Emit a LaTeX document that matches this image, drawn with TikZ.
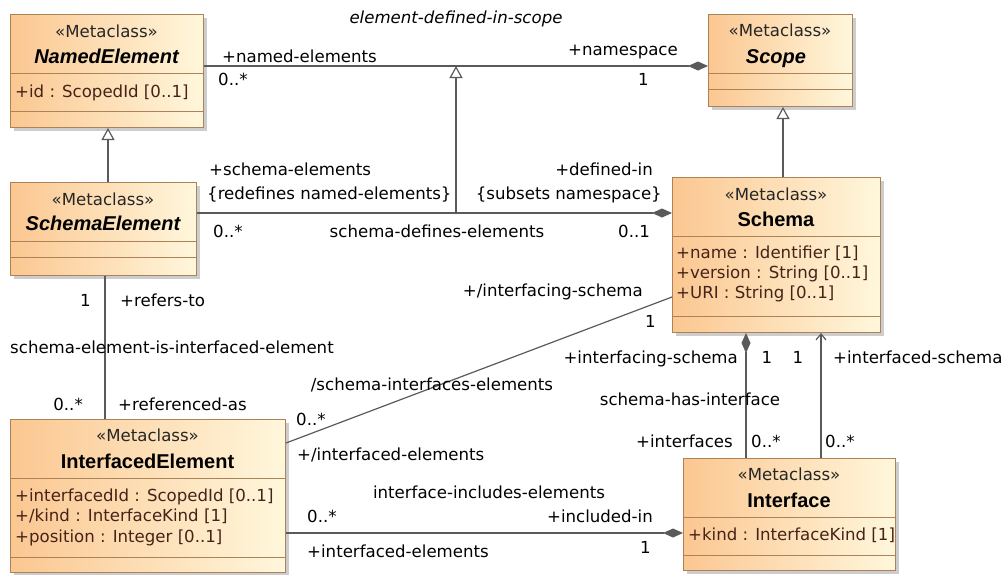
\documentclass[tikz,border=0pt]{standalone}
\usepackage{fontspec}
\setmainfont{DejaVu Sans}
\newfontfamily\titlefont{Liberation Sans}
\usetikzlibrary{arrows.meta,shadows}
\definecolor{boxL}{RGB}{251,199,145}
\definecolor{boxR}{RGB}{255,247,220}
\definecolor{boxB}{RGB}{172,130,90}
\definecolor{lineC}{RGB}{90,90,90}
\definecolor{attrC}{RGB}{70,35,25}
\definecolor{shadowC}{RGB}{205,205,205}
\begin{document}
\begin{tikzpicture}[x=1pt,y=-1pt,
 every node/.style={inner sep=0pt, font=\fontsize{16.6}{19}\selectfont},
 box/.style={draw=boxB, line width=1pt, left color=boxL, right color=boxR,
   drop shadow={shadow xshift=3pt, shadow yshift=-3pt, fill=shadowC, opacity=1},
   anchor=north west, inner sep=0pt},
 sep/.style={draw=boxB, line width=1pt},
 stereo/.style={anchor=base, text=black!85},
 ttl/.style={anchor=base, font=\titlefont\bfseries\fontsize{20}{24}\selectfont},
 ttli/.style={anchor=base, font=\titlefont\bfseries\itshape\fontsize{20}{24}\selectfont},
 attr/.style={anchor=base west, text=attrC},
 ital/.style={font=\fontsize{16.6}{19}\selectfont\itshape},
 conn/.style={draw=lineC, line width=1.2pt},
 comp/.style={conn, -{Diamond[length=20pt,width=9pt,fill=lineC]}},
 gen/.style={conn, -{Triangle[open, length=12pt, width=13pt, fill=white]}},
 nav/.style={conn, -{Straight Barb[length=6pt, width=10pt]}}
]
\useasboundingbox (0,0) rectangle (1004,574);

% helper coordinates
\coordinate (h66) at (0,66);
\coordinate (h213) at (0,213);
\coordinate (h443) at (0,443);
\coordinate (h297) at (0,297);
\coordinate (h533) at (0,533);
\coordinate (v108) at (108,0);
\coordinate (v783) at (783,0);
\coordinate (v105) at (105,0);
\coordinate (v746) at (746,0);
\coordinate (v821) at (821,0);

% ---------- boxes ----------
\node[box, minimum width=193pt, minimum height=113pt] (named) at (10,14) {};
\draw[sep] (named.west |- 0,73) -- (named.east |- 0,73);
\draw[sep] (named.west |- 0,111) -- (named.east |- 0,111);
\node[stereo] (named-st) at (106.5,37) {«Metaclass»};
\node[ttli] (named-t) at (106.5,63) {NamedElement};
\node[attr] (named-a1) at (15,97) {+id : ScopedId [0..1]};

\node[box, minimum width=144pt, minimum height=92pt] (scope) at (708,14) {};
\draw[sep] (scope.west |- 0,73) -- (scope.east |- 0,73);
\draw[sep] (scope.west |- 0,89) -- (scope.east |- 0,89);
\node[stereo] (scope-st) at (780,36) {«Metaclass»};
\node[ttli] (scope-t) at (776,63) {Scope};

\node[box, minimum width=186pt, minimum height=93pt] (schemael) at (10,182) {};
\draw[sep] (schemael.west |- 0,241) -- (schemael.east |- 0,241);
\draw[sep] (schemael.west |- 0,257) -- (schemael.east |- 0,257);
\node[stereo] (schemael-st) at (103,205) {«Metaclass»};
\node[ttli] (schemael-t) at (103,230) {SchemaElement};

\node[box, minimum width=208pt, minimum height=155pt] (schema) at (672,177) {};
\draw[sep] (schema.west |- 0,236) -- (schema.east |- 0,236);
\draw[sep] (schema.west |- 0,316) -- (schema.east |- 0,316);
\node[stereo] (schema-st) at (776,200) {«Metaclass»};
\node[ttl] (schema-t) at (776,226) {Schema};
\node[attr] (schema-a1) at (676,258) {+name : Identifier [1]};
\node[attr] (schema-a2) at (676,278) {+version : String [0..1]};
\node[attr] (schema-a3) at (676,298) {+URI : String [0..1]};

\node[box, minimum width=275pt, minimum height=153pt] (ifel) at (10,419) {};
\draw[sep] (ifel.west |- 0,478) -- (ifel.east |- 0,478);
\draw[sep] (ifel.west |- 0,557) -- (ifel.east |- 0,557);
\node[stereo] (ifel-st) at (147.5,441) {«Metaclass»};
\node[ttl] (ifel-t) at (147.5,468) {InterfacedElement};
\node[attr] (ifel-a1) at (15,501) {+interfacedId : ScopedId [0..1]};
\node[attr] (ifel-a2) at (15,521) {+/kind : InterfaceKind [1]};
\node[attr] (ifel-a3) at (15,542) {+position : Integer [0..1]};

\node[box, minimum width=212pt, minimum height=112pt] (iface) at (683,458) {};
\draw[sep] (iface.west |- 0,517) -- (iface.east |- 0,517);
\draw[sep] (iface.west |- 0,555) -- (iface.east |- 0,555);
\node[stereo] (iface-st) at (789,480) {«Metaclass»};
\node[ttl] (iface-t) at (789,507) {Interface};
\node[attr] (iface-a1) at (688,540) {+kind : InterfaceKind [1]};

% ---------- connectors ----------
\draw[comp] (named.east |- h66) -- (scope.west |- h66);
\draw[comp] (schemael.east |- h213) -- (schema.west |- h213);
\coordinate (ag1) at (456,213);
\coordinate (ag2) at (456,66);
\draw[gen] (ag1) -- (ag2);
\draw[gen] (schemael.north -| v108) -- (named.south -| v108);
\draw[gen] (schema.north -| v783) -- (scope.south -| v783);
\draw[conn] (schemael.south -| v105) -- (ifel.north -| v105);
\draw[conn] (ifel.east |- h443) -- (schema.west |- h297);
\draw[comp] (iface.north -| v746) -- (schema.south -| v746);
\draw[nav] (iface.north -| v821) -- (schema.south -| v821);
\draw[comp] (ifel.east |- h533) -- (iface.west |- h533);

% ---------- labels ----------
\node[ital, anchor=base] (l1) at (456,23) {element-defined-in-scope};
\node[anchor=base west] (l2) at (222,62) {+named-elements};
\node[anchor=base west] (l3) at (218,85) {0..*};
\node[anchor=base east] (l4) at (678,55) {+namespace};
\node[anchor=base west] (l5) at (638,85) {1};

\node[anchor=base west] (l6) at (209,175) {+schema-elements};
\node[anchor=base west] (l7) at (207,199) {\{redefines named-elements\}};
\node[anchor=base east] (l8) at (653,175) {+defined-in};
\node[anchor=base east] (l9) at (662,199) {\{subsets namespace\}};
\node[anchor=base west] (l10) at (213,237) {0..*};
\node[anchor=base] (l11) at (437,237) {schema-defines-elements};
\node[anchor=base west] (l12) at (618,237) {0..1};

\node[anchor=base east] (l13) at (91,306) {1};
\node[anchor=base west] (l14) at (120,306) {+refers-to};
\node[anchor=base] (l15) at (172,353) {schema-element-is-interfaced-element};
\node[anchor=base east] (l16) at (83,410) {0..*};
\node[anchor=base west] (l17) at (118,410) {+referenced-as};

\node[anchor=base east] (l18) at (643,296) {+/interfacing-schema};
\node[anchor=base west] (l19) at (645,327) {1};
\node[anchor=base] (l20) at (432,390) {/schema-interfaces-elements};
\node[anchor=base west] (l21) at (296,425) {0..*};
\node[anchor=base west] (l22) at (297,460) {+/interfaced-elements};

\node[anchor=base east] (l23) at (738,363) {+interfacing-schema};
\node[anchor=base] (l24) at (767,363) {1};
\node[anchor=base] (l25) at (798,363) {1};
\node[anchor=base west] (l26) at (833,363) {+interfaced-schema};
\node[anchor=base] (l27) at (690,405) {schema-has-interface};
\node[anchor=base east] (l28) at (733,447) {+interfaces};
\node[anchor=base west] (l29) at (751,447) {0..*};
\node[anchor=base west] (l30) at (825,447) {0..*};

\node[anchor=base] (l31) at (489,498) {interface-includes-elements};
\node[anchor=base west] (l32) at (307,522) {0..*};
\node[anchor=base east] (l33) at (653,522) {+included-in};
\node[anchor=base west] (l34) at (640,553) {1};
\node[anchor=base west] (l35) at (307,557) {+interfaced-elements};
\end{tikzpicture}
\end{document}
